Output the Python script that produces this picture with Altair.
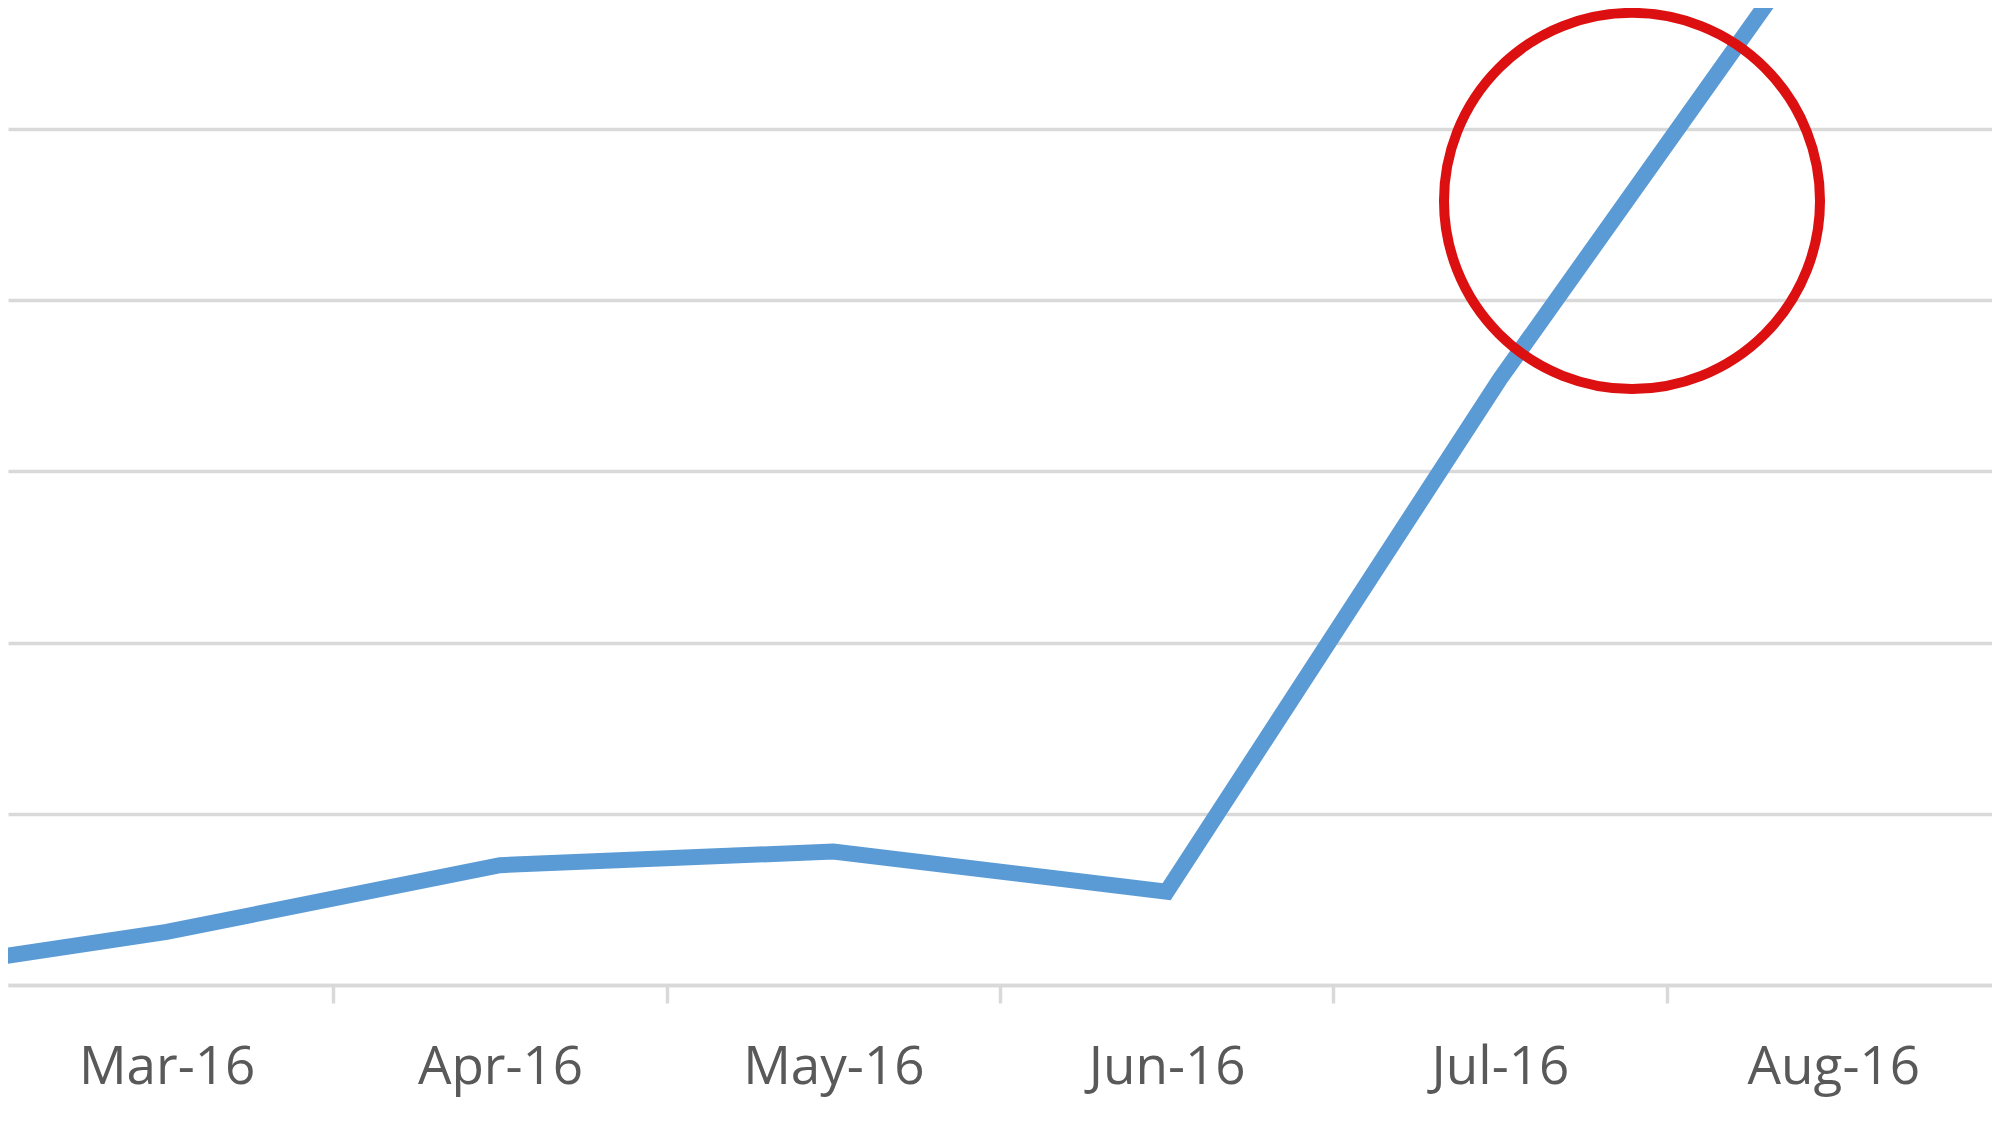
import json
import altair as alt
import pandas as pd

# ---- data ----
months = ["Feb-16", "Mar-16", "Apr-16", "May-16", "Jun-16", "Jul-16", "Aug-16"]
values = [0.2, 3.1, 7.0, 7.8, 5.45, 35.4, 62.8]
grid_values = [0, 10, 20, 30, 40, 50]

# highlighted spot (red circle), in month-index / value units
highlight_pos = [5.396]
highlight_val = [45.8]

df = pd.DataFrame({"idx": list(range(len(months))), "month": months, "value": values})
ann = pd.DataFrame({"idx": highlight_pos, "value": highlight_val})

x_domain = [0.524, 6.476]
y_domain = [0, 57.07]

tick_vals = [i / 2 for i in range(2, 13)]  # 1.0 .. 6.0 step 0.5
label_expr = "datum.value % 1 === 0 ? " + json.dumps(months) + "[datum.value] : ''"

x_enc = alt.X(
    "idx:Q",
    title=None,
    scale=alt.Scale(domain=x_domain, nice=False, zero=False),
    axis=alt.Axis(
        values=tick_vals,
        labelExpr=label_expr,
        grid=False,
        domainColor="#d9d9d9",
        domainWidth=3.5,
        tickColor="#d9d9d9",
        tickWidth=3.5,
        tickSize=18,
        tickOpacity={"condition": {"test": "datum.value % 1 === 0", "value": 0}, "value": 1},
        labelFont="Open Sans",
        labelFontSize=53,
        labelColor="#595959",
        labelBaseline="alphabetic",
        labelPadding=80,
        labelLimit=0,
        labelOverlap=False,
        labelFlush=False,
        labelBound=False,
    ),
)
y_enc = alt.Y(
    "value:Q",
    title=None,
    scale=alt.Scale(domain=y_domain, nice=False, zero=True),
    axis=alt.Axis(
        values=grid_values,
        labels=False,
        ticks=False,
        domain=False,
        grid=True,
        gridColor="#d9d9d9",
        gridWidth=3.5,
    ),
)

line = alt.Chart(df).mark_line(
    clip=True, color="#5b9bd5", strokeWidth=16
).encode(x=x_enc, y=y_enc)

circle = alt.Chart(ann).mark_point(
    shape="circle", filled=False, size=141376, strokeWidth=10,
    color="#dc1010", opacity=1
).encode(x=x_enc, y=y_enc)

chart = (
    alt.layer(line, circle)
    .properties(
        width=1984,
        height=977,
        autosize=alt.AutoSizeParams(type="none"),
        padding={"left": 0, "top": 0, "right": 0, "bottom": 120},
        background="white",
    )
    .configure_view(stroke=None)
)

chart.save("out.html", embed_options={"renderer": "svg", "actions": False})
